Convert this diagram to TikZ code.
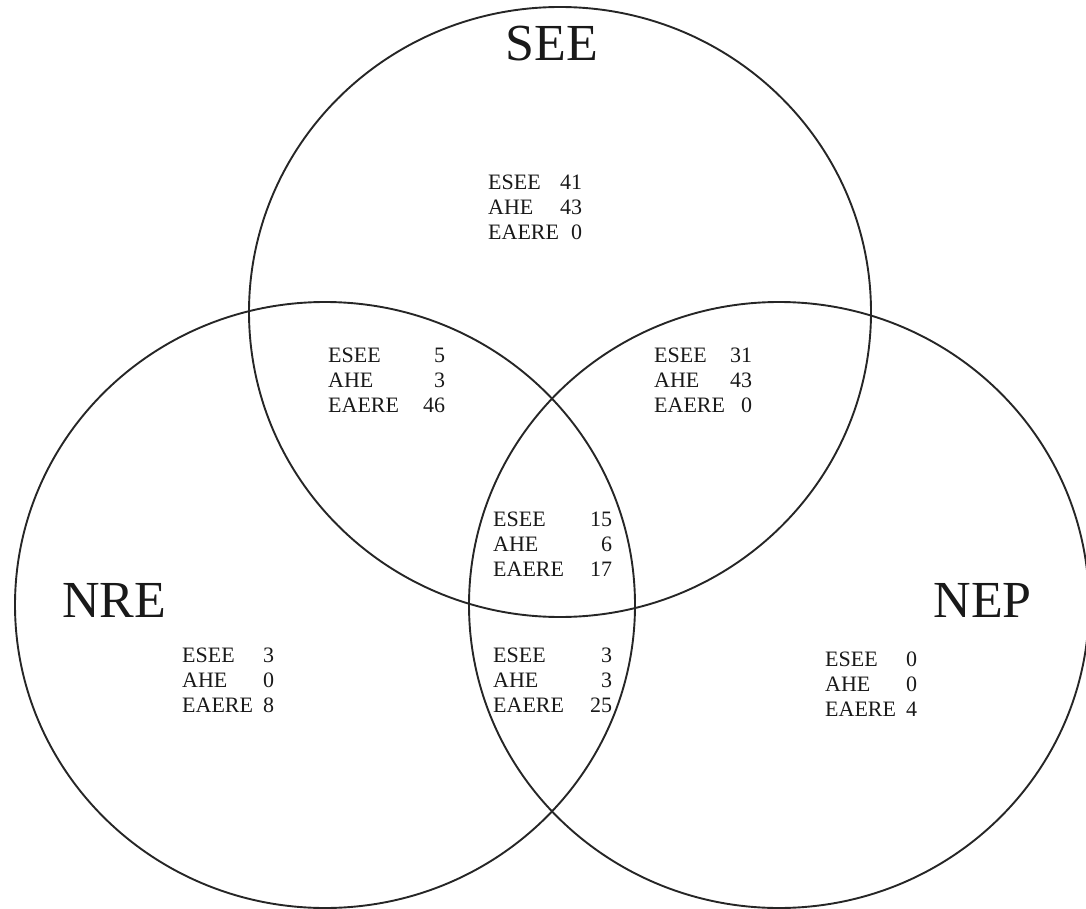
\documentclass[tikz,border=0pt]{standalone}
\usepackage{fontspec}
\setmainfont{Liberation Serif}
\usetikzlibrary{shapes.geometric}
\begin{document}
\begin{tikzpicture}[x=1pt,y=-1pt,
  venn/.style={draw=black!85, line width=1.9pt, ellipse, inner sep=0pt},
  big/.style={font=\fontsize{52}{56}\selectfont, inner sep=0pt, text=black!90},
  grp/.style={font=\fontsize{22}{25}\selectfont, inner sep=0pt, anchor=north west, align=left, text=black!90}]
\useasboundingbox (0,0) rectangle (1086,909);
\node[venn, minimum width=622pt, minimum height=610pt] (see) at (560,312) {};
\node[venn, minimum width=620pt, minimum height=606pt] (nre) at (325,605) {};
\node[venn, minimum width=620pt, minimum height=606pt] (nep) at (779,605) {};
\node[big] (lsee) at (552,44) {SEE};
\node[big, anchor=west] (lnre) at (62,600) {NRE};
\node[big, anchor=east] (lnep) at (1032,600) {NEP};
\node[grp, text width=94pt] (g1) at (488,175) {ESEE\hfill 41\\AHE\hfill 43\\EAERE\hfill 0};
\node[grp, text width=117pt] (g2) at (328,348) {ESEE\hfill 5\\AHE\hfill 3\\EAERE\hfill 46};
\node[grp, text width=98pt] (g3) at (654,348) {ESEE\hfill 31\\AHE\hfill 43\\EAERE\hfill 0};
\node[grp, text width=119pt] (g4) at (493,512) {ESEE\hfill 15\\AHE\hfill 6\\EAERE\hfill 17};
\node[grp, text width=119pt] (g5) at (493,648) {ESEE\hfill 3\\AHE\hfill 3\\EAERE\hfill 25};
\node[grp, text width=92pt] (g6) at (182,648) {ESEE\hfill 3\\AHE\hfill 0\\EAERE\hfill 8};
\node[grp, text width=92pt] (g7) at (825,652) {ESEE\hfill 0\\AHE\hfill 0\\EAERE\hfill 4};
\end{tikzpicture}
\end{document}
